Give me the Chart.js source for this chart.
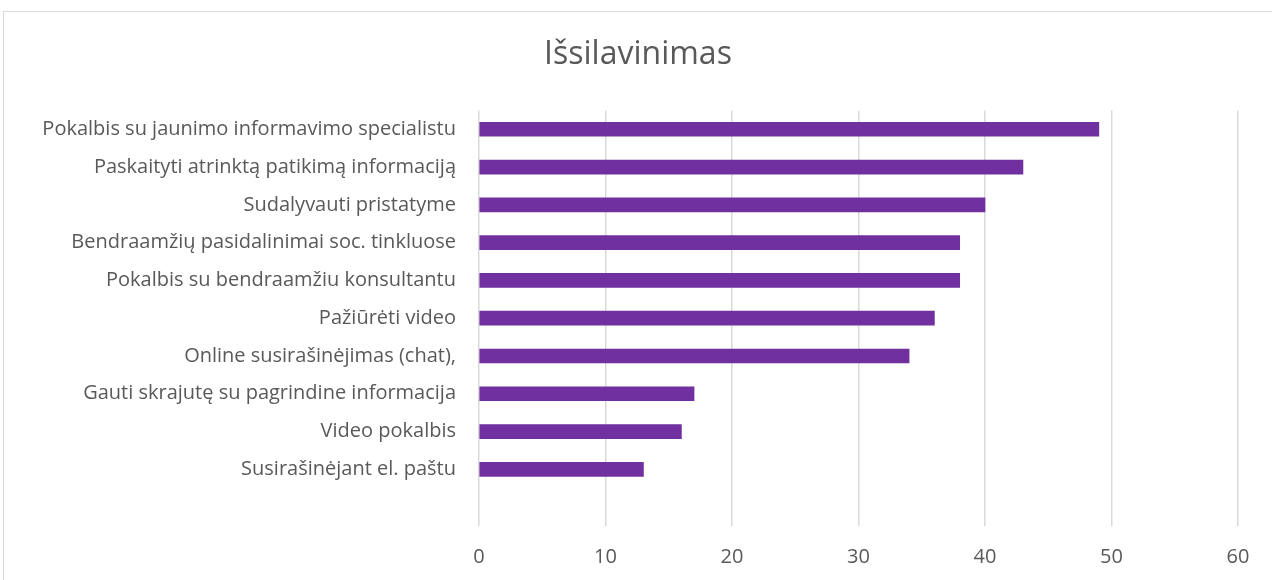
<!DOCTYPE html>
<html>
<head>
<meta charset="utf-8">
<script src="https://cdn.jsdelivr.net/npm/chart.js@4.4.0/dist/chart.umd.min.js"></script>
<style>
  body { margin: 0; background: #fff; }
  #wrap { position: absolute; left: 0; top: 0; width: 1272px; height: 580px; }
  #frame { position: absolute; left: 3px; top: 11px; width: 1290px; height: 600px; border: 1px solid #d9d9d9; }
</style>
</head>
<body>
<div id="frame"></div>
<div id="wrap"><canvas id="myChart"></canvas></div>
<script>
const labels = [
    'Pokalbis su jaunimo informavimo specialistu',
    'Paskaityti atrinktą patikimą informaciją',
    'Sudalyvauti pristatyme',
    'Bendraamžių pasidalinimai soc. tinkluose',
    'Pokalbis su bendraamžiu konsultantu',
    'Pažiūrėti video',
    'Online susirašinėjimas (chat),',
    'Gauti skrajutę su pagrindine informacija',
    'Video pokalbis',
    'Susirašinėjant el. paštu',
    ''
];
const values = [49, 43, 40, 38, 38, 36, 34, 17, 16, 13, null];
const xTicks = [0, 10, 20, 30, 40, 50, 60];

const ctx = document.getElementById('myChart');

new Chart(ctx, {
    type: 'bar',
    data: {
        labels: labels,
        datasets: [{
            label: 'Išsilavinimas',
            data: values,
            backgroundColor: '#7030A0',
            barThickness: 14
        }]
    },
    options: {
        indexAxis: 'y',
        responsive: true,
        maintainAspectRatio: false,
        animation: false,
        layout: { padding: { top: 20, right: 34, bottom: 11, left: 38 } },
        plugins: {
            legend: { display: false },
            tooltip: { enabled: false },
            title: {
                display: true,
                text: 'Išsilavinimas',
                color: '#595959',
                font: { family: 'Open Sans', size: 32, weight: 'normal' },
                padding: { top: 16, bottom: 36 }
            }
        },
        scales: {
            x: {
                min: 0,
                max: 60,
                afterBuildTicks: function (scale) {
                    scale.ticks = xTicks.map(v => ({ value: v }));
                },
                afterFit: function (scale) { scale.height = 43; },
                grid: { color: '#d9d9d9', lineWidth: 1.5, drawTicks: false },
                border: { display: false },
                ticks: {
                    color: '#595959',
                    padding: 19,
                    maxRotation: 0,
                    font: { family: 'Open Sans', size: 20 }
                }
            },
            y: {
                grid: { display: false, drawTicks: false },
                border: { display: false },
                afterFit: function (scale) { scale.width = 441; },
                ticks: {
                    color: '#595959',
                    padding: 23,
                    autoSkip: false,
                    font: { family: 'Open Sans', size: 20 }
                }
            }
        }
    }
});
</script>
</body>
</html>
